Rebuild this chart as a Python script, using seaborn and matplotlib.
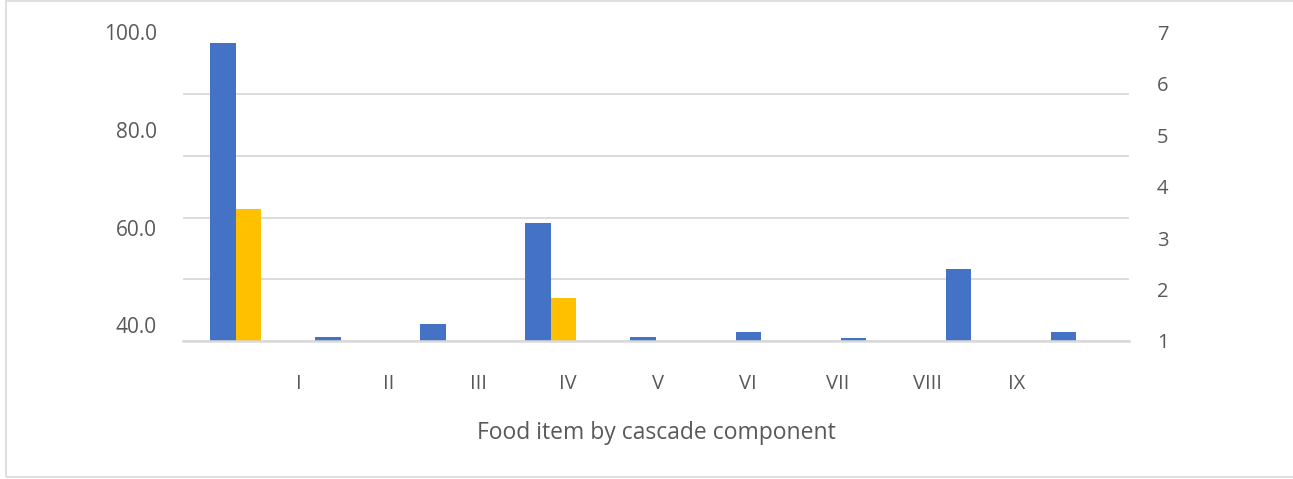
import numpy as np
import pandas as pd
import matplotlib
matplotlib.use("Agg")
import matplotlib.pyplot as plt
import seaborn as sns
from matplotlib.patches import Rectangle

categories = ["I", "II", "III", "IV", "V", "VI", "VII", "VIII", "IX"]
series_blue = [97.9, 40.7, 43.4, 62.9, 40.7, 41.7, 40.6, 54.0, 41.7]
series_yellow = [65.7, np.nan, np.nan, 48.4, np.nan, np.nan, np.nan, np.nan, np.nan]
series_names = ["Series 1", "Series 2"]
left_tick_labels = ["40.0", "60.0", "80.0", "100.0"]
right_tick_labels = ["1", "2", "3", "4", "5", "6", "7"]
x_title = "Food item by cascade component"

BLUE = "#4472C4"
YELLOW = "#FFC000"
GRID = "#D9D9D9"
TXT = "#595959"

sns.set_theme(style="white")
plt.rcParams["font.family"] = ["Open Sans", "DejaVu Sans"]

df = pd.DataFrame({
    "cat": categories * 2,
    "val": series_blue + series_yellow,
    "series": [series_names[0]] * len(categories) + [series_names[1]] * len(categories),
})

fig = plt.figure(figsize=(12.93, 4.79), dpi=100)
ax = fig.add_axes([183 / 1293, 1 - 341 / 479, (1129 - 183) / 1293, (341 - 32.5) / 479])

sns.barplot(data=df, x="cat", y="val", hue="series", order=categories,
            hue_order=series_names, palette=[BLUE, YELLOW], width=0.486,
            saturation=1, ax=ax, legend=False, zorder=3)
for p in ax.patches:
    p.set_edgecolor("none")

ax.set_xlim(-0.5, len(categories) - 0.5)
ax.set_ylim(40, 100)

# gridlines (minor ticks) and left labels (major ticks)
ax.set_yticks(np.linspace(40, 100, 6), minor=True)
ax.set_yticks(np.linspace(43.1, 100, 4))
ax.set_yticklabels(left_tick_labels)
ax.yaxis.grid(True, which="minor", color=GRID, linewidth=1.3, zorder=0)
ax.yaxis.grid(False, which="major")
ax.tick_params(axis="y", which="both", length=0, pad=19, labelsize=15, labelcolor=TXT)

# x tick labels (offset like the reference)
ax.set_xticks(0.604 + 0.8535 * np.arange(len(categories)))
ax.set_xticklabels(categories)
ax.tick_params(axis="x", length=0, pad=24, labelsize=14.5, labelcolor=TXT)
ax.set_xlabel(x_title, fontsize=16.5, color=TXT, labelpad=19)
ax.set_ylabel("")

for s in ["top", "left", "right"]:
    ax.spines[s].set_visible(False)
ax.spines["bottom"].set_color(GRID)
ax.spines["bottom"].set_linewidth(1.8)
ax.spines["bottom"].set_zorder(4)

ax2 = ax.twinx()
ax2.set_ylim(1, 7)
ax2.set_yticks(range(1, 8))
ax2.set_yticklabels(right_tick_labels)
ax2.tick_params(axis="y", length=0, pad=20, labelsize=14.5, labelcolor=TXT)
for s in ["top", "left", "right", "bottom"]:
    ax2.spines[s].set_visible(False)

fig.patches.append(Rectangle((6 / 1293, 2 / 479), 1.2, 1 - 3 / 479,
                             transform=fig.transFigure, fill=False,
                             edgecolor=GRID, linewidth=1.2))

fig.savefig("out.png", dpi=100, facecolor="white")
